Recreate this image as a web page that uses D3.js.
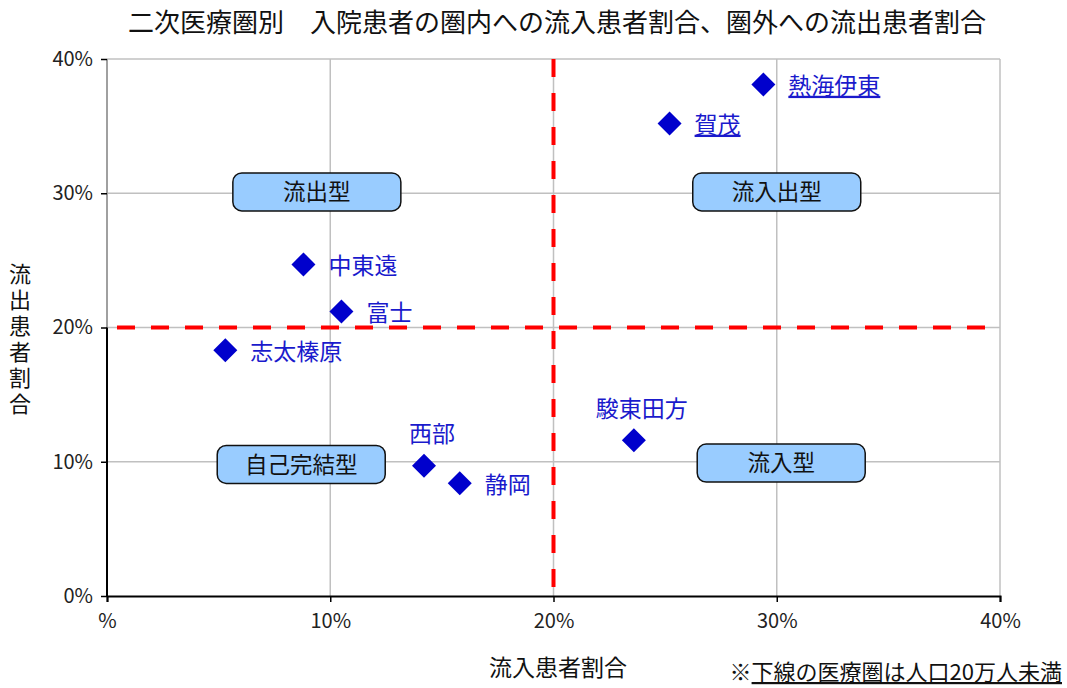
<!DOCTYPE html>
<html>
<head>
<meta charset="utf-8">
<script src="https://cdn.jsdelivr.net/npm/d3@7"></script>
<style>
  body { margin: 0; background: #fff; }
  text { font-family: "Noto Sans CJK JP", "Noto Sans", sans-serif; }
</style>
</head>
<body>
<script>
// データ（%）
const areas = ["熱海伊東", "賀茂", "中東遠", "富士", "志太榛原", "西部", "静岡", "駿東田方"];
const inflow = [29.4, 25.2, 8.8, 10.5, 5.3, 14.2, 15.8, 23.6];
const outflow = [38.1, 35.2, 24.7, 21.2, 18.3, 9.7, 8.4, 11.6];
const smallPop = [true, true, false, false, false, false, false, false];
const labelPos = ["right", "right", "right", "right", "right", "above", "right", "above"];

// 区分ラベル
const typeNames = ["流出型", "流入出型", "自己完結型", "流入型"];
const typeX = [9.4, 30.0, 8.7, 30.2];
const typeY = [30.1, 30.1, 9.8, 9.9];

const ticks = [0, 10, 20, 30, 40];
const xTickLabels = ["%", "10%", "20%", "30%", "40%"];
const yTickLabels = ["0%", "10%", "20%", "30%", "40%"];

const WIDTH = 1067, HEIGHT = 688;
const mLeft = 107, mRight = 1000, mTop = 59, mBottom = 596;

const svg = d3.select("body").append("svg")
  .attr("width", WIDTH).attr("height", HEIGHT);

const x = d3.scaleLinear().domain([0, 40]).range([mLeft, mRight]);
const y = d3.scaleLinear().domain([0, 40]).range([mBottom, mTop]);

// タイトル
svg.append("text").attr("x", 557).attr("y", 32)
  .attr("text-anchor", "middle").attr("font-size", 26).attr("fill", "#111")
  .text("二次医療圏別　入院患者の圏内への流入患者割合、圏外への流出患者割合");

// グリッド
const grid = svg.append("g");
grid.selectAll(".gx").data([10, 20, 30, 40]).enter().append("line")
  .attr("x1", d => x(d)).attr("x2", d => x(d))
  .attr("y1", mTop).attr("y2", mBottom)
  .attr("stroke", "#c0c0c0").attr("stroke-width", 1.5);
grid.selectAll(".gy").data([10, 20, 30, 40]).enter().append("line")
  .attr("x1", mLeft).attr("x2", mRight)
  .attr("y1", d => y(d)).attr("y2", d => y(d))
  .attr("stroke", "#c0c0c0").attr("stroke-width", 1.5);
// 左枠（上半分は灰色）
svg.append("line").attr("x1", mLeft).attr("x2", mLeft)
  .attr("y1", mTop).attr("y2", y(20))
  .attr("stroke", "#a0a0a0").attr("stroke-width", 2);

// 軸
const xAxis = svg.append("g").attr("transform", `translate(0,${mBottom})`)
  .call(d3.axisBottom(x).tickValues(ticks).tickFormat((d, i) => xTickLabels[i]).tickSizeOuter(0).tickSize(6));
const yAxis = svg.append("g").attr("transform", `translate(${mLeft},0)`)
  .call(d3.axisLeft(y).tickValues(ticks).tickFormat((d, i) => yTickLabels[i]).tickSizeOuter(0).tickSize(6));
[xAxis, yAxis].forEach(a => {
  a.selectAll("text").attr("font-size", 20).attr("fill", "#222")
    .attr("font-family", "\"Noto Sans CJK JP\", sans-serif");
  a.selectAll("line").attr("stroke", "#000").attr("stroke-width", 1.5);
});
xAxis.select(".domain").attr("stroke", "#000").attr("stroke-width", 2);
xAxis.selectAll("text").attr("y", 18).attr("dy", "0.71em");
yAxis.select(".domain").remove();
yAxis.append("line").attr("x1", 0).attr("x2", 0)
  .attr("y1", y(20)).attr("y2", mBottom).attr("stroke", "#000").attr("stroke-width", 2);
yAxis.selectAll("text").attr("x", -14);

// 赤の破線（20%）
svg.append("line").attr("x1", x(20)).attr("x2", x(20))
  .attr("y1", mTop).attr("y2", mBottom + 2)
  .attr("stroke", "#ff0000").attr("stroke-width", 4).attr("stroke-dasharray", "18,16");
svg.append("line").attr("x1", mLeft + 10).attr("x2", mRight - 10)
  .attr("y1", y(20)).attr("y2", y(20))
  .attr("stroke", "#ff0000").attr("stroke-width", 4).attr("stroke-dasharray", "18,16");

// 区分ボックス
const boxes = svg.append("g").selectAll("g").data(typeNames).enter().append("g")
  .attr("transform", (d, i) => `translate(${x(typeX[i])},${y(typeY[i])})`);
boxes.append("rect").attr("x", -84).attr("y", -19).attr("width", 168).attr("height", 38)
  .attr("rx", 9).attr("fill", "#99ccff").attr("stroke", "#111").attr("stroke-width", 1.5);
boxes.append("text").attr("text-anchor", "middle").attr("dy", "0.36em")
  .attr("font-size", 22.5).attr("fill", "#111").text(d => d);

// 散布点
const pts = svg.append("g").selectAll("g").data(areas).enter().append("g")
  .attr("transform", (d, i) => `translate(${x(inflow[i])},${y(outflow[i])})`);
pts.append("path").attr("d", "M0,-12L12,0L0,12L-12,0Z").attr("fill", "#0000cc");
pts.append("text")
  .attr("x", (d, i) => labelPos[i] === "right" ? 25 : 8)
  .attr("y", (d, i) => labelPos[i] === "right" ? 1 : -32)
  .attr("dy", "0.36em")
  .attr("text-anchor", (d, i) => labelPos[i] === "right" ? "start" : "middle")
  .attr("font-size", 23).attr("fill", "#1a1acc")
  .attr("text-decoration", (d, i) => smallPop[i] ? "underline" : null)
  .text(d => d);

// 軸タイトル
svg.append("text").attr("x", 558).attr("y", 676).attr("text-anchor", "middle")
  .attr("font-size", 23).attr("fill", "#111").text("流入患者割合");
svg.append("text").attr("transform", "translate(20,341)")
  .attr("text-anchor", "middle").attr("font-size", 22).attr("fill", "#111")
  .attr("letter-spacing", 4)
  .style("writing-mode", "vertical-rl").style("glyph-orientation-vertical", 0)
  .text("流出患者割合");

// 注記
const note = svg.append("text").attr("x", 1062).attr("y", 680).attr("text-anchor", "end")
  .attr("font-size", 22).attr("fill", "#111");
note.append("tspan").text("※");
note.append("tspan").attr("text-decoration", "underline").text("下線の医療圏は人口20万人未満");
</script>
</body>
</html>
